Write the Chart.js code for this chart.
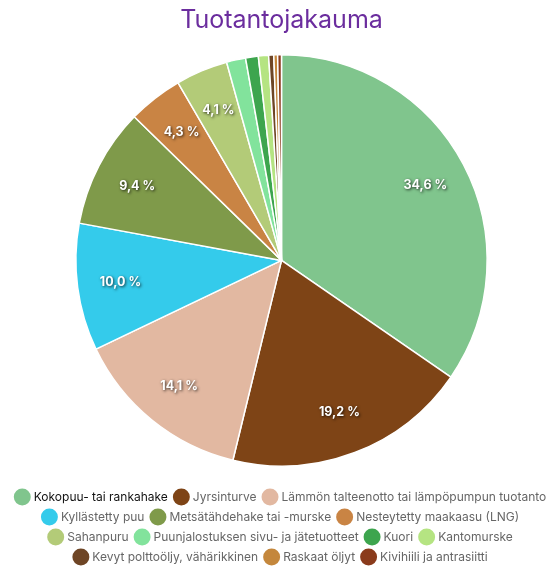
<!DOCTYPE html>
<html>
<head>
<meta charset="utf-8">
<style>
  html, body { margin: 0; padding: 0; background: #fff; }
  #wrap { width: 555px; height: 566px; }
</style>
</head>
<body>
<div id="wrap"><canvas id="pie"></canvas></div>
<script src="https://cdn.jsdelivr.net/npm/chart.js"></script>
<script>
  const labels = [
    "Kokopuu- tai rankahake", "Jyrsinturve", "Lämmön talteenotto tai lämpöpumpun tuotanto",
    "Kyllästetty puu", "Metsätähdehake tai -murske", "Nesteytetty maakaasu (LNG)",
    "Sahanpuru", "Puunjalostuksen sivu- ja jätetuotteet", "Kuori", "Kantomurske",
    "Kevyt polttoöljy, vähärikkinen", "Raskaat öljyt", "Kivihiili ja antrasiitti"
  ];
  const shares = [34.6, 19.2, 14.1, 10.0, 9.4, 4.3, 4.1, 1.5, 1.0, 0.8, 0.4, 0.3, 0.3];
  const colors = [
    "#80c58d", "#7e4416", "#e2b8a1", "#34cbeb", "#7f9a4a", "#c98444",
    "#b3cb78", "#82e39c", "#3da54e", "#b5e482", "#6e4525", "#c4873c", "#8a3b1c"
  ];

  // percentage labels drawn inside the bigger slices
  const sliceLabels = {
    id: "sliceLabels",
    afterDatasetsDraw(chart) {
      const ctx = chart.ctx;
      const meta = chart.getDatasetMeta(0);
      ctx.save();
      ctx.font = "bold 12.5px Inter, 'Open Sans', sans-serif";
      ctx.textAlign = "center";
      ctx.textBaseline = "middle";
      ctx.fillStyle = "#fff";
      ctx.shadowColor = "rgba(0,0,0,0.8)";
      ctx.shadowBlur = 3;
      ctx.shadowOffsetX = 1;
      ctx.shadowOffsetY = 1;
      meta.data.forEach((arc, i) => {
        const v = shares[i];
        if (v < 4) return;
        const p = arc.getProps(["x", "y", "startAngle", "endAngle", "outerRadius"], true);
        const a = (p.startAngle + p.endAngle) / 2;
        const r = p.outerRadius * 0.79;
        ctx.fillText(v.toFixed(1).replace(".", ",") + " %", p.x + Math.cos(a) * r, p.y + Math.sin(a) * r);
      });
      ctx.restore();
    }
  };

  new Chart(document.getElementById("pie"), {
    type: "pie",
    data: {
      labels: labels,
      datasets: [{
        data: shares,
        backgroundColor: colors,
        borderColor: "#ffffff",
        borderWidth: 1.5
      }]
    },
    options: {
      responsive: true,
      maintainAspectRatio: false,
      animation: false,
      layout: { padding: { left: 8, right: 0, top: 0, bottom: -7 } },
      plugins: {
        title: {
          display: true,
          text: "Tuotantojakauma",
          color: "#6b2d9e",
          font: { family: "Inter, 'Open Sans', sans-serif", size: 25, weight: "normal" },
          padding: { top: 5, bottom: 19 }
        },
        legend: {
          position: "bottom",
          title: { display: true, text: "", font: { size: 1 }, padding: { top: 0, bottom: 15 } },
          labels: {
            usePointStyle: true,
            pointStyle: "circle",
            boxWidth: 11,
            boxHeight: 12,
            padding: 8,
            font: { family: "Inter, 'Open Sans', sans-serif", size: 12 },
            generateLabels(chart) {
              const items = Chart.controllers.pie.overrides.plugins.legend.labels.generateLabels(chart);
              items.forEach((it, i) => {
                it.fontColor = i === 0 ? "#111" : "#666";
                it.lineWidth = 0;
              });
              return items;
            }
          }
        },
        tooltip: { enabled: false }
      }
    },
    plugins: [sliceLabels]
  });
</script>
</body>
</html>
